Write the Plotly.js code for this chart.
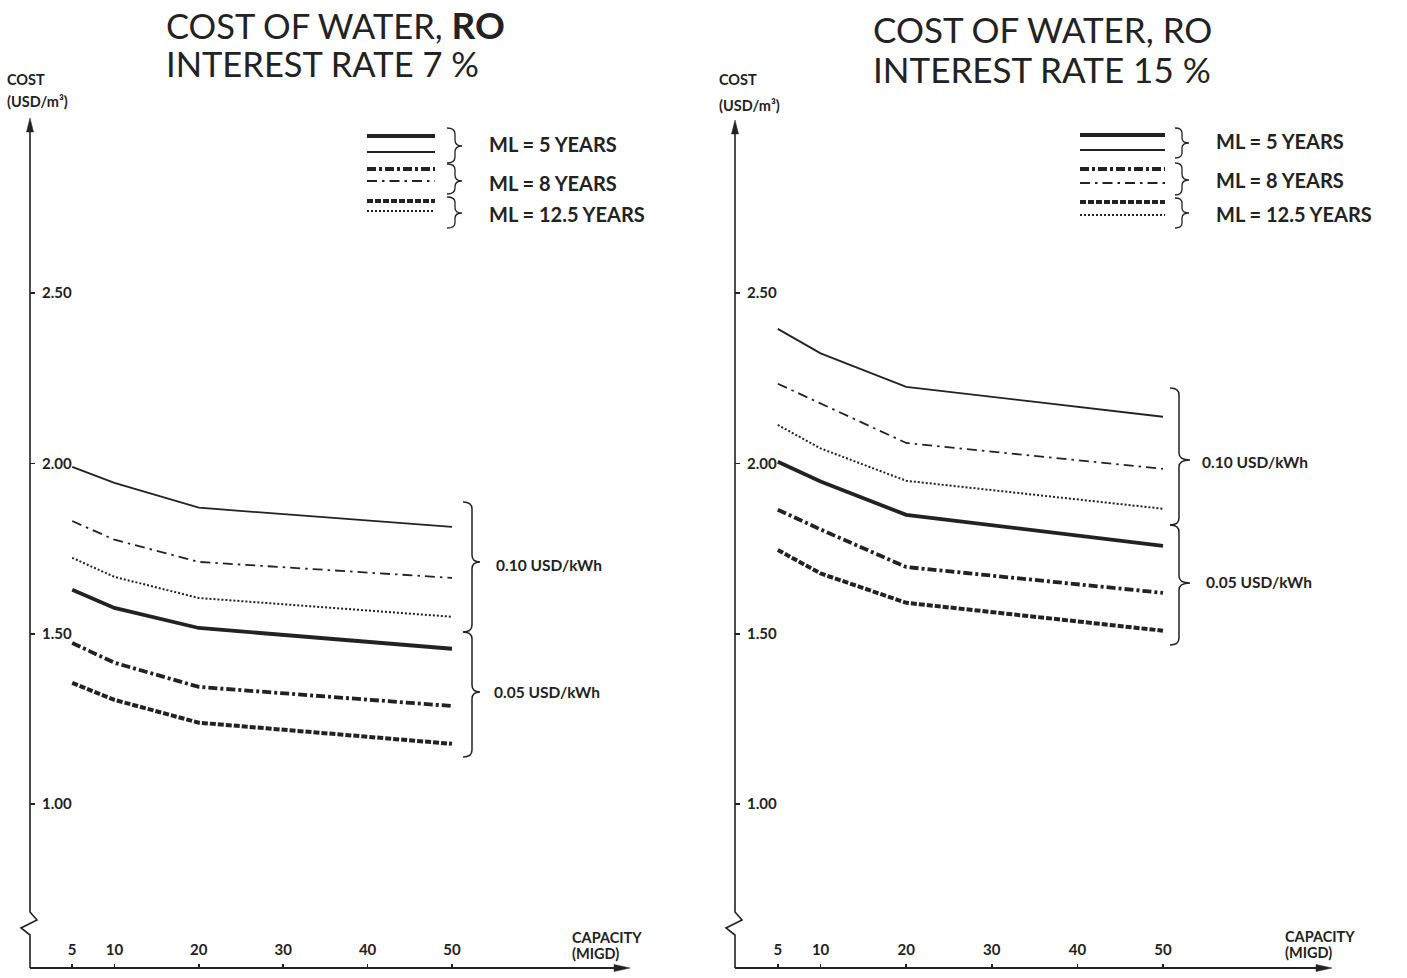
<!DOCTYPE html>
<html>
<head>
<meta charset="utf-8">
<script src="https://cdn.plot.ly/plotly-3.0.1.min.js"></script>
<style>
html,body{margin:0;padding:0;background:#fff;}
#chart{width:1407px;height:978px;}
</style>
</head>
<body>
<div id="chart"></div>
<script>
// ---------------- DATA ----------------
const capacity = [5, 10, 20, 50];            // MIGD
const xTickVals = [5, 10, 20, 30, 40, 50];
const xTickText = ['5', '10', '20', '30', '40', '50'];
const yTickVals = [1.0, 1.5, 2.0, 2.5];
const yTickText = ['1.00', '1.50', '2.00', '2.50'];

// Interest rate 7 %
const r7_ml5_p10   = [1.990, 1.943, 1.870, 1.814];
const r7_ml8_p10   = [1.831, 1.776, 1.711, 1.664];
const r7_ml125_p10 = [1.723, 1.667, 1.605, 1.550];
const r7_ml5_p05   = [1.629, 1.576, 1.517, 1.456];
const r7_ml8_p05   = [1.473, 1.415, 1.344, 1.288];
const r7_ml125_p05 = [1.356, 1.306, 1.239, 1.177];

// Interest rate 15 %
const r15_ml5_p10   = [2.395, 2.323, 2.225, 2.137];
const r15_ml8_p10   = [2.234, 2.176, 2.060, 1.984];
const r15_ml125_p10 = [2.113, 2.044, 1.949, 1.867];
const r15_ml5_p05   = [2.005, 1.947, 1.849, 1.758];
const r15_ml8_p05   = [1.864, 1.806, 1.696, 1.620];
const r15_ml125_p05 = [1.746, 1.677, 1.591, 1.509];

const legendLabels = ['ML = 5 YEARS', 'ML = 8 YEARS', 'ML = 12.5 YEARS'];
const priceLabels = ['0.10 USD/kWh', '0.05 USD/kWh'];

// ---------------- STYLE ----------------
const W = 1407, H = 978;
const INK = '#222222';
const FONT = 'Lato, "Open Sans", sans-serif';
const STY = {
  ml5_p10:   {color: INK, width: 1.8, dash: 'solid'},
  ml8_p10:   {color: INK, width: 1.8, dash: '10px,5px,2.5px,5px'},
  ml125_p10: {color: INK, width: 2.0, dash: '2px,2px'},
  ml5_p05:   {color: INK, width: 3.8, dash: 'solid'},
  ml8_p05:   {color: INK, width: 3.8, dash: '9px,3px,3px,3px'},
  ml125_p05: {color: INK, width: 4.0, dash: '6px,2px'}
};

function tr(y, sty, xa, ya, name) {
  return {x: capacity, y: y, type: 'scatter', mode: 'lines', line: sty,
          xaxis: xa, yaxis: ya, name: name, hoverinfo: 'skip', showlegend: false};
}
const traces = [
  tr(r7_ml5_p10, STY.ml5_p10, 'x', 'y', 'ML 5, 0.10'),
  tr(r7_ml8_p10, STY.ml8_p10, 'x', 'y', 'ML 8, 0.10'),
  tr(r7_ml125_p10, STY.ml125_p10, 'x', 'y', 'ML 12.5, 0.10'),
  tr(r7_ml5_p05, STY.ml5_p05, 'x', 'y', 'ML 5, 0.05'),
  tr(r7_ml8_p05, STY.ml8_p05, 'x', 'y', 'ML 8, 0.05'),
  tr(r7_ml125_p05, STY.ml125_p05, 'x', 'y', 'ML 12.5, 0.05'),
  tr(r15_ml5_p10, STY.ml5_p10, 'x2', 'y2', 'ML 5, 0.10'),
  tr(r15_ml8_p10, STY.ml8_p10, 'x2', 'y2', 'ML 8, 0.10'),
  tr(r15_ml125_p10, STY.ml125_p10, 'x2', 'y2', 'ML 12.5, 0.10'),
  tr(r15_ml5_p05, STY.ml5_p05, 'x2', 'y2', 'ML 5, 0.05'),
  tr(r15_ml8_p05, STY.ml8_p05, 'x2', 'y2', 'ML 8, 0.05'),
  tr(r15_ml125_p05, STY.ml125_p05, 'x2', 'y2', 'ML 12.5, 0.05')
];

// pixel -> paper helpers (decorations only)
const fx = x => (x / W).toFixed(5);
const fy = y => (1 - y / H).toFixed(5);
const P = (x, y) => fx(x) + ',' + fy(y);

const shapes = [];
function pathShape(d, width, fill) {
  shapes.push({type: 'path', xref: 'paper', yref: 'paper', path: d,
    line: {color: INK, width: fill ? 0.5 : width}, fillcolor: fill ? INK : 'rgba(0,0,0,0)', layer: 'above'});
}
function brace(xl, xv, xt, y0, ym, y1, w) {
  const r = Math.min(7, (ym - y0) / 3);
  const d = 'M' + P(xl, y0) + ' Q' + P(xv, y0) + ' ' + P(xv, y0 + r) +
    ' L' + P(xv, ym - r) + ' Q' + P(xv, ym) + ' ' + P(xt, ym) +
    ' Q' + P(xv, ym) + ' ' + P(xv, ym + r) +
    ' L' + P(xv, y1 - r) + ' Q' + P(xv, y1) + ' ' + P(xl, y1);
  pathShape(d, w || 1.5);
}
function axes(x0, xEnd, yTop) {
  // y axis with break
  pathShape('M' + P(x0, 968) + ' L' + P(x0, 935) + ' L' + P(x0 - 9, 928) + ' L' + P(x0 + 7, 920) +
            ' L' + P(x0, 912) + ' L' + P(x0, yTop + 10), 1.6);
  pathShape('M' + P(x0, yTop) + ' L' + P(x0 - 3.5, yTop + 14) + ' L' + P(x0 + 3.5, yTop + 14) + ' Z', 1, true);
  // x axis
  pathShape('M' + P(x0, 968) + ' L' + P(xEnd - 12, 968), 1.8);
  pathShape('M' + P(xEnd, 968) + ' L' + P(xEnd - 16, 964.5) + ' L' + P(xEnd - 16, 971.5) + ' Z', 1, true);
}
axes(30, 630, 118);
axes(735, 1332, 120);

// legend samples
function legend(xa, xb, ys) {
  const order = ['ml5_p05', 'ml5_p10', 'ml8_p05', 'ml8_p10', 'ml125_p05', 'ml125_p10'];
  order.forEach((k, i) => {
    shapes.push({type: 'line', xref: 'paper', yref: 'paper', x0: xa / W, x1: xb / W,
      y0: 1 - ys[i] / H, y1: 1 - ys[i] / H, line: STY[k], layer: 'above'});
  });
}
legend(367, 435, [136, 152, 169, 181, 201, 211]);
legend(1080, 1165, [135, 150, 169, 183, 202, 215]);
// legend braces
brace(447, 455, 462, 128, 146, 163, 1.3);
brace(447, 455, 462, 164, 181, 194, 1.3);
brace(447, 455, 462, 197, 213, 228, 1.3);
brace(1175, 1182, 1189, 128, 143, 158, 1.3);
brace(1175, 1182, 1189, 163, 180, 195, 1.3);
brace(1175, 1182, 1189, 198, 213, 228, 1.3);
// price braces
brace(463, 472, 480, 502, 562, 632, 1.5);
brace(463, 472, 480, 632, 692, 757, 1.5);
brace(1170, 1179, 1190, 388, 460, 525, 1.5);
brace(1170, 1179, 1190, 525, 583, 645, 1.5);

// ---------------- TEXT ----------------
const annotations = [];
function txt(text, x, y, size, bold, anchor, yanchor, pad) {
  annotations.push({text: text, xref: 'paper', yref: 'paper', x: x / W, y: 1 - y / H,
    xanchor: anchor || 'left', yanchor: yanchor || 'middle', showarrow: false,
    borderpad: pad === undefined ? 1 : pad,
    font: {family: FONT, size: size, color: INK, weight: bold ? 'bold' : 'normal'}});
}
txt('COST OF WATER, <span style="font-size:37px"><b>RO</b></span>', 165, 1, 34.5, false, 'left', 'top', 0);
txt('INTEREST RATE 7 %', 165, 42, 34.5, false, 'left', 'top', 0);
txt('COST OF WATER, RO', 871, 29, 35, false);
txt('INTEREST RATE 15 %', 871, 69, 35, false);

txt('COST', 5, 79, 14.5, true);
txt('(USD/m³)', 5, 101, 14.5, true);
txt('COST', 717, 79, 14.5, true);
txt('(USD/m³)', 717, 105, 14.5, true);

txt('CAPACITY', 570, 937, 14.5, true);
txt('(MIGD)', 570, 953, 14.5, true);
txt('CAPACITY', 1283, 936, 14.5, true);
txt('(MIGD)', 1283, 952, 14.5, true);

txt(legendLabels[0], 487, 144, 20, true);
txt(legendLabels[1], 487, 183, 20, true);
txt(legendLabels[2], 487, 214, 20, true);
txt(legendLabels[0], 1214, 141, 20, true);
txt(legendLabels[1], 1214, 180, 20, true);
txt(legendLabels[2], 1214, 214, 20, true);

txt(priceLabels[0], 494, 565, 15.5, true);
txt(priceLabels[1], 492, 692, 15.5, true);
txt(priceLabels[0], 1200, 462, 15.5, true);
txt(priceLabels[1], 1204, 582, 15.5, true);

// ---------------- AXES ----------------
const yRange = [0.519, 3.008];
const yDomain = [1 - 968 / H, 1 - 120 / H];
const tickFont = {family: FONT, size: 15, color: INK, weight: 'bold'};
function xAxis(domain, range, anchor) {
  return {domain: domain, range: range, anchor: anchor, showgrid: false, zeroline: false, showline: false,
    tickmode: 'array', tickvals: xTickVals, ticktext: xTickText, ticks: 'inside', ticklen: 4,
    tickwidth: 1.5, tickcolor: INK, ticklabelposition: 'inside', ticklabelstandoff: 6,
    tickfont: tickFont, fixedrange: true};
}
function yAxis(anchor) {
  return {domain: yDomain, range: yRange, anchor: anchor, showgrid: false, zeroline: false, showline: false,
    tickmode: 'array', tickvals: yTickVals, ticktext: yTickText, ticks: 'inside', ticklen: 5,
    tickwidth: 1.5, tickcolor: INK, ticklabelposition: 'inside', ticklabelstandoff: 7,
    tickfont: tickFont, fixedrange: true};
}

const layout = {
  width: W, height: H, margin: {l: 0, r: 0, t: 0, b: 0},
  paper_bgcolor: '#ffffff', plot_bgcolor: 'rgba(0,0,0,0)',
  showlegend: false,
  xaxis: xAxis([30 / W, 628 / W], [0, (628 - 30) / 8.44], 'y'),
  yaxis: yAxis('x'),
  xaxis2: xAxis([735 / W, 1330 / W], [0, (1330 - 735) / 8.56], 'y2'),
  yaxis2: yAxis('x2'),
  shapes: shapes,
  annotations: annotations
};

Plotly.newPlot('chart', traces, layout, {staticPlot: true, displayModeBar: false});
</script>
</body>
</html>
